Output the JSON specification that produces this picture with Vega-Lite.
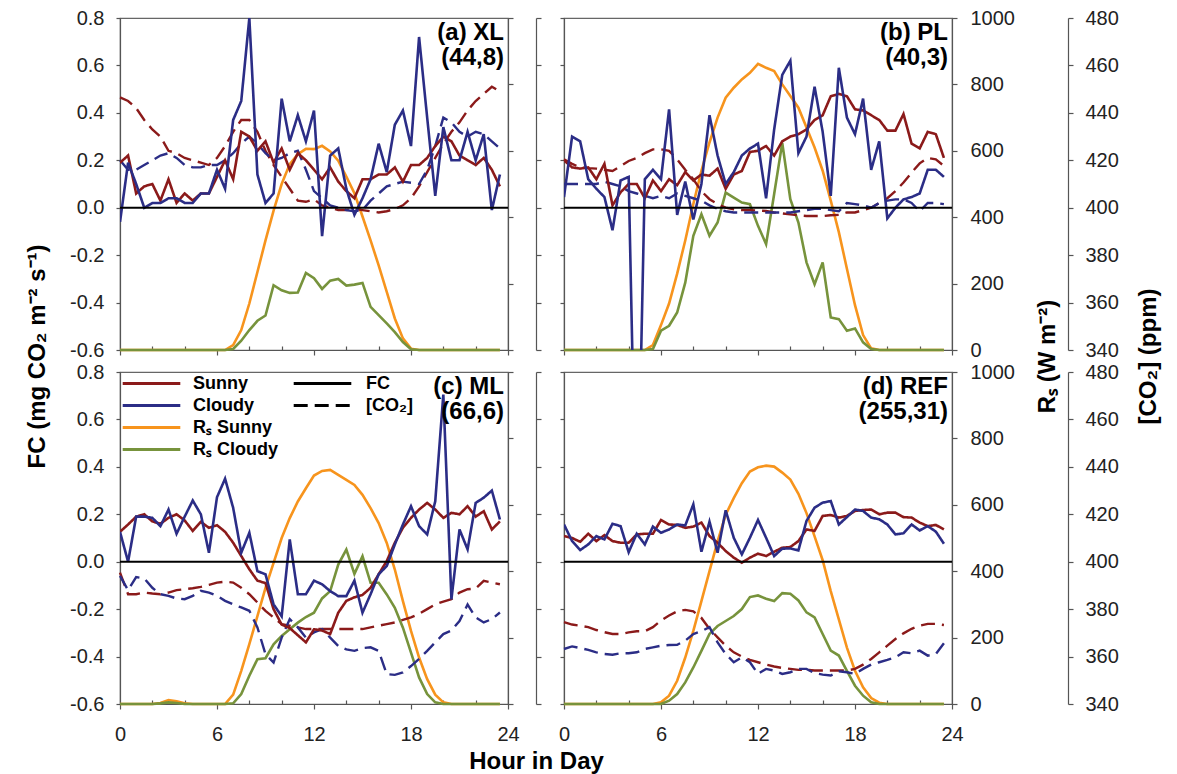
{
"$schema":"https://vega.github.io/schema/vega-lite/v6.json",
"padding":{"left":24,"top":7,"right":5,"bottom":5},
"background":"white",
"config":{
 "font":"Liberation Sans",
 "view":{"stroke":"#666","strokeWidth":1.2},
 "axis":{"grid":false,"domainColor":"#555","domainWidth":1.2,"tickColor":"#555","tickWidth":1.2,"labelFont":"Liberation Sans","labelFontSize":20,"labelColor":"#222","titleFont":"Liberation Sans","titleFontSize":24,"titleFontWeight":"bold","titleColor":"#000","labelOverlap":false,"labelFlush":false},
 "legend":{"labelFont":"Liberation Sans","labelFontSize":18,"labelFontWeight":"bold","labelColor":"#000","symbolStrokeWidth":3,"padding":0,"rowPadding":3},
 "text":{"font":"Liberation Sans"}
},
"data":{"values":[
{"p":"a","h":0,"Sunny":0.19,"Cloudy":-0.06,"co2_sunny":446.5,"co2_cloudy":420,"rs_sunny":0,"rs_cloudy":0},
{"p":"a","h":0.5,"Sunny":0.22,"Cloudy":0.19,"co2_sunny":445,"co2_cloudy":416,"rs_sunny":0,"rs_cloudy":0},
{"p":"a","h":1,"Sunny":0.06,"Cloudy":0.1,"co2_sunny":442,"co2_cloudy":416,"rs_sunny":0,"rs_cloudy":0},
{"p":"a","h":1.5,"Sunny":0.09,"Cloudy":0,"co2_sunny":437,"co2_cloudy":418,"rs_sunny":0,"rs_cloudy":0},
{"p":"a","h":2,"Sunny":0.1,"Cloudy":0.02,"co2_sunny":433,"co2_cloudy":420,"rs_sunny":0,"rs_cloudy":0},
{"p":"a","h":2.5,"Sunny":0.03,"Cloudy":0.02,"co2_sunny":430,"co2_cloudy":422,"rs_sunny":0,"rs_cloudy":0},
{"p":"a","h":3,"Sunny":0.12,"Cloudy":0.04,"co2_sunny":424,"co2_cloudy":423,"rs_sunny":0,"rs_cloudy":0},
{"p":"a","h":3.5,"Sunny":0.02,"Cloudy":0.04,"co2_sunny":423,"co2_cloudy":421,"rs_sunny":0,"rs_cloudy":0},
{"p":"a","h":4,"Sunny":0.06,"Cloudy":0.02,"co2_sunny":421,"co2_cloudy":418,"rs_sunny":0,"rs_cloudy":0},
{"p":"a","h":4.5,"Sunny":0.03,"Cloudy":0.02,"co2_sunny":420,"co2_cloudy":417,"rs_sunny":0,"rs_cloudy":0},
{"p":"a","h":5,"Sunny":0.06,"Cloudy":0.06,"co2_sunny":419,"co2_cloudy":417,"rs_sunny":0,"rs_cloudy":0},
{"p":"a","h":5.5,"Sunny":0.06,"Cloudy":0.06,"co2_sunny":418,"co2_cloudy":418,"rs_sunny":0,"rs_cloudy":0},
{"p":"a","h":6,"Sunny":0.13,"Cloudy":0.16,"co2_sunny":421,"co2_cloudy":418,"rs_sunny":0,"rs_cloudy":0},
{"p":"a","h":6.5,"Sunny":0.2,"Cloudy":0.08,"co2_sunny":426,"co2_cloudy":420,"rs_sunny":0,"rs_cloudy":0},
{"p":"a","h":7,"Sunny":0.12,"Cloudy":0.37,"co2_sunny":432,"co2_cloudy":423,"rs_sunny":15,"rs_cloudy":3},
{"p":"a","h":7.5,"Sunny":0.32,"Cloudy":0.45,"co2_sunny":437,"co2_cloudy":427,"rs_sunny":60,"rs_cloudy":28},
{"p":"a","h":8,"Sunny":0.3,"Cloudy":0.8,"co2_sunny":437,"co2_cloudy":430,"rs_sunny":140,"rs_cloudy":60},
{"p":"a","h":8.5,"Sunny":0.24,"Cloudy":0.14,"co2_sunny":432,"co2_cloudy":427,"rs_sunny":235,"rs_cloudy":88},
{"p":"a","h":9,"Sunny":0.28,"Cloudy":0.02,"co2_sunny":424,"co2_cloudy":423,"rs_sunny":330,"rs_cloudy":104},
{"p":"a","h":9.5,"Sunny":0.19,"Cloudy":0.06,"co2_sunny":418,"co2_cloudy":420,"rs_sunny":420,"rs_cloudy":195},
{"p":"a","h":10,"Sunny":0.25,"Cloudy":0.46,"co2_sunny":413,"co2_cloudy":421,"rs_sunny":500,"rs_cloudy":180},
{"p":"a","h":10.5,"Sunny":0.16,"Cloudy":0.28,"co2_sunny":408,"co2_cloudy":423,"rs_sunny":560,"rs_cloudy":172},
{"p":"a","h":11,"Sunny":0.23,"Cloudy":0.39,"co2_sunny":403,"co2_cloudy":424,"rs_sunny":590,"rs_cloudy":173},
{"p":"a","h":11.5,"Sunny":0.2,"Cloudy":0.28,"co2_sunny":402.5,"co2_cloudy":416,"rs_sunny":606,"rs_cloudy":232},
{"p":"a","h":12,"Sunny":0.16,"Cloudy":0.41,"co2_sunny":403.5,"co2_cloudy":407,"rs_sunny":605,"rs_cloudy":216},
{"p":"a","h":12.5,"Sunny":0.12,"Cloudy":-0.12,"co2_sunny":401,"co2_cloudy":404,"rs_sunny":615,"rs_cloudy":184},
{"p":"a","h":13,"Sunny":0.17,"Cloudy":0.22,"co2_sunny":400,"co2_cloudy":401,"rs_sunny":598,"rs_cloudy":209},
{"p":"a","h":13.5,"Sunny":0.11,"Cloudy":0.25,"co2_sunny":399,"co2_cloudy":400,"rs_sunny":570,"rs_cloudy":214},
{"p":"a","h":14,"Sunny":0.07,"Cloudy":0.08,"co2_sunny":399,"co2_cloudy":399,"rs_sunny":522,"rs_cloudy":194},
{"p":"a","h":14.5,"Sunny":0.04,"Cloudy":-0.03,"co2_sunny":399.5,"co2_cloudy":398.5,"rs_sunny":472,"rs_cloudy":197},
{"p":"a","h":15,"Sunny":0.12,"Cloudy":0.04,"co2_sunny":399,"co2_cloudy":399,"rs_sunny":402,"rs_cloudy":202},
{"p":"a","h":15.5,"Sunny":0.12,"Cloudy":0.12,"co2_sunny":398.5,"co2_cloudy":403,"rs_sunny":330,"rs_cloudy":130},
{"p":"a","h":16,"Sunny":0.14,"Cloudy":0.27,"co2_sunny":398,"co2_cloudy":406,"rs_sunny":255,"rs_cloudy":105},
{"p":"a","h":16.5,"Sunny":0.14,"Cloudy":0.15,"co2_sunny":398.5,"co2_cloudy":409,"rs_sunny":175,"rs_cloudy":80},
{"p":"a","h":17,"Sunny":0.17,"Cloudy":0.35,"co2_sunny":399.5,"co2_cloudy":410,"rs_sunny":95,"rs_cloudy":54},
{"p":"a","h":17.5,"Sunny":0.11,"Cloudy":0.41,"co2_sunny":401,"co2_cloudy":411,"rs_sunny":35,"rs_cloudy":24},
{"p":"a","h":18,"Sunny":0.18,"Cloudy":0.26,"co2_sunny":404,"co2_cloudy":410.5,"rs_sunny":4,"rs_cloudy":2},
{"p":"a","h":18.5,"Sunny":0.18,"Cloudy":0.72,"co2_sunny":409,"co2_cloudy":410,"rs_sunny":0,"rs_cloudy":0},
{"p":"a","h":19,"Sunny":0.21,"Cloudy":0.38,"co2_sunny":415,"co2_cloudy":416,"rs_sunny":0,"rs_cloudy":0},
{"p":"a","h":19.5,"Sunny":0.26,"Cloudy":0.05,"co2_sunny":421,"co2_cloudy":426,"rs_sunny":0,"rs_cloudy":0},
{"p":"a","h":20,"Sunny":0.3,"Cloudy":0.34,"co2_sunny":427,"co2_cloudy":438,"rs_sunny":0,"rs_cloudy":0},
{"p":"a","h":20.5,"Sunny":0.28,"Cloudy":0.2,"co2_sunny":432,"co2_cloudy":436,"rs_sunny":0,"rs_cloudy":0},
{"p":"a","h":21,"Sunny":0.22,"Cloudy":0.2,"co2_sunny":436,"co2_cloudy":432,"rs_sunny":0,"rs_cloudy":0},
{"p":"a","h":21.5,"Sunny":0.2,"Cloudy":0.32,"co2_sunny":441,"co2_cloudy":430,"rs_sunny":0,"rs_cloudy":0},
{"p":"a","h":22,"Sunny":0.18,"Cloudy":0.2,"co2_sunny":445,"co2_cloudy":432,"rs_sunny":0,"rs_cloudy":0},
{"p":"a","h":22.5,"Sunny":0.21,"Cloudy":0.31,"co2_sunny":448,"co2_cloudy":431,"rs_sunny":0,"rs_cloudy":0},
{"p":"a","h":23,"Sunny":0.16,"Cloudy":-0.01,"co2_sunny":451,"co2_cloudy":428,"rs_sunny":0,"rs_cloudy":0},
{"p":"a","h":23.5,"Sunny":0.09,"Cloudy":0.14,"co2_sunny":449,"co2_cloudy":425,"rs_sunny":0,"rs_cloudy":0},
{"p":"b","h":0,"Sunny":0.2,"Cloudy":0.045,"co2_sunny":420.4,"co2_cloudy":410,"rs_sunny":0,"rs_cloudy":0},
{"p":"b","h":0.5,"Sunny":0.17,"Cloudy":0.3,"co2_sunny":418.5,"co2_cloudy":410,"rs_sunny":0,"rs_cloudy":0},
{"p":"b","h":1,"Sunny":0.165,"Cloudy":0.28,"co2_sunny":417,"co2_cloudy":410,"rs_sunny":0,"rs_cloudy":0},
{"p":"b","h":1.5,"Sunny":0.17,"Cloudy":0.12,"co2_sunny":416.7,"co2_cloudy":410,"rs_sunny":0,"rs_cloudy":0},
{"p":"b","h":2,"Sunny":0.12,"Cloudy":0.08,"co2_sunny":416.5,"co2_cloudy":410,"rs_sunny":0,"rs_cloudy":0},
{"p":"b","h":2.5,"Sunny":0.185,"Cloudy":0.045,"co2_sunny":416,"co2_cloudy":411,"rs_sunny":0,"rs_cloudy":0},
{"p":"b","h":3,"Sunny":0.01,"Cloudy":-0.095,"co2_sunny":415.5,"co2_cloudy":410,"rs_sunny":0,"rs_cloudy":0},
{"p":"b","h":3.5,"Sunny":0.065,"Cloudy":0.115,"co2_sunny":417.5,"co2_cloudy":409,"rs_sunny":0,"rs_cloudy":0},
{"p":"b","h":4,"Sunny":0.1,"Cloudy":0.13,"co2_sunny":419.7,"co2_cloudy":407,"rs_sunny":0,"rs_cloudy":0},
{"p":"b","h":4.5,"Sunny":0.1,"Cloudy":-1.5,"co2_sunny":421,"co2_cloudy":406,"rs_sunny":0,"rs_cloudy":0},
{"p":"b","h":5,"Sunny":0.04,"Cloudy":0.12,"co2_sunny":423,"co2_cloudy":405,"rs_sunny":0,"rs_cloudy":0},
{"p":"b","h":5.5,"Sunny":0.115,"Cloudy":0.16,"co2_sunny":424.6,"co2_cloudy":404,"rs_sunny":15,"rs_cloudy":3},
{"p":"b","h":6,"Sunny":0.07,"Cloudy":0.12,"co2_sunny":424.6,"co2_cloudy":405,"rs_sunny":75,"rs_cloudy":58},
{"p":"b","h":6.5,"Sunny":0.12,"Cloudy":0.415,"co2_sunny":424,"co2_cloudy":404,"rs_sunny":140,"rs_cloudy":73},
{"p":"b","h":7,"Sunny":0.095,"Cloudy":-0.03,"co2_sunny":420.4,"co2_cloudy":406,"rs_sunny":230,"rs_cloudy":113},
{"p":"b","h":7.5,"Sunny":0.15,"Cloudy":0.11,"co2_sunny":416,"co2_cloudy":405,"rs_sunny":330,"rs_cloudy":203},
{"p":"b","h":8,"Sunny":0.115,"Cloudy":-0.05,"co2_sunny":412,"co2_cloudy":404,"rs_sunny":440,"rs_cloudy":344},
{"p":"b","h":8.5,"Sunny":0.14,"Cloudy":0.1,"co2_sunny":407,"co2_cloudy":403,"rs_sunny":540,"rs_cloudy":409},
{"p":"b","h":9,"Sunny":0.135,"Cloudy":0.39,"co2_sunny":403.6,"co2_cloudy":401,"rs_sunny":625,"rs_cloudy":344},
{"p":"b","h":9.5,"Sunny":0.165,"Cloudy":0.22,"co2_sunny":401.5,"co2_cloudy":399.5,"rs_sunny":700,"rs_cloudy":384},
{"p":"b","h":10,"Sunny":0.08,"Cloudy":0.1,"co2_sunny":400,"co2_cloudy":398.5,"rs_sunny":760,"rs_cloudy":474},
{"p":"b","h":10.5,"Sunny":0.14,"Cloudy":0.15,"co2_sunny":399.3,"co2_cloudy":398,"rs_sunny":790,"rs_cloudy":459},
{"p":"b","h":11,"Sunny":0.155,"Cloudy":0.22,"co2_sunny":399,"co2_cloudy":398,"rs_sunny":815,"rs_cloudy":444},
{"p":"b","h":11.5,"Sunny":0.235,"Cloudy":0.25,"co2_sunny":399,"co2_cloudy":398,"rs_sunny":835,"rs_cloudy":439},
{"p":"b","h":12,"Sunny":0.24,"Cloudy":0.27,"co2_sunny":398.8,"co2_cloudy":398,"rs_sunny":862,"rs_cloudy":374},
{"p":"b","h":12.5,"Sunny":0.26,"Cloudy":0.04,"co2_sunny":398.6,"co2_cloudy":398,"rs_sunny":850,"rs_cloudy":319},
{"p":"b","h":13,"Sunny":0.22,"Cloudy":0.33,"co2_sunny":398,"co2_cloudy":398,"rs_sunny":840,"rs_cloudy":470},
{"p":"b","h":13.5,"Sunny":0.28,"Cloudy":0.56,"co2_sunny":397.6,"co2_cloudy":398,"rs_sunny":800,"rs_cloudy":624},
{"p":"b","h":14,"Sunny":0.3,"Cloudy":0.62,"co2_sunny":397.2,"co2_cloudy":398,"rs_sunny":765,"rs_cloudy":454},
{"p":"b","h":14.5,"Sunny":0.31,"Cloudy":0.23,"co2_sunny":396.8,"co2_cloudy":398.5,"rs_sunny":730,"rs_cloudy":384},
{"p":"b","h":15,"Sunny":0.33,"Cloudy":0.3,"co2_sunny":396.5,"co2_cloudy":399,"rs_sunny":670,"rs_cloudy":264},
{"p":"b","h":15.5,"Sunny":0.37,"Cloudy":0.51,"co2_sunny":396.5,"co2_cloudy":399.5,"rs_sunny":610,"rs_cloudy":198},
{"p":"b","h":16,"Sunny":0.39,"Cloudy":0.32,"co2_sunny":396.5,"co2_cloudy":399.5,"rs_sunny":540,"rs_cloudy":264},
{"p":"b","h":16.5,"Sunny":0.47,"Cloudy":0.05,"co2_sunny":396.8,"co2_cloudy":399,"rs_sunny":450,"rs_cloudy":98},
{"p":"b","h":17,"Sunny":0.48,"Cloudy":0.59,"co2_sunny":397,"co2_cloudy":398.5,"rs_sunny":355,"rs_cloudy":93},
{"p":"b","h":17.5,"Sunny":0.47,"Cloudy":0.38,"co2_sunny":398,"co2_cloudy":402,"rs_sunny":245,"rs_cloudy":58},
{"p":"b","h":18,"Sunny":0.415,"Cloudy":0.31,"co2_sunny":398,"co2_cloudy":401.5,"rs_sunny":135,"rs_cloudy":65},
{"p":"b","h":18.5,"Sunny":0.41,"Cloudy":0.46,"co2_sunny":399,"co2_cloudy":401,"rs_sunny":45,"rs_cloudy":23},
{"p":"b","h":19,"Sunny":0.39,"Cloudy":0.16,"co2_sunny":400,"co2_cloudy":400,"rs_sunny":5,"rs_cloudy":3},
{"p":"b","h":19.5,"Sunny":0.37,"Cloudy":0.28,"co2_sunny":402,"co2_cloudy":402,"rs_sunny":0,"rs_cloudy":0},
{"p":"b","h":20,"Sunny":0.325,"Cloudy":-0.045,"co2_sunny":404,"co2_cloudy":403,"rs_sunny":0,"rs_cloudy":0},
{"p":"b","h":20.5,"Sunny":0.325,"Cloudy":0,"co2_sunny":407,"co2_cloudy":403.5,"rs_sunny":0,"rs_cloudy":0},
{"p":"b","h":21,"Sunny":0.395,"Cloudy":0.035,"co2_sunny":410.6,"co2_cloudy":403.5,"rs_sunny":0,"rs_cloudy":0},
{"p":"b","h":21.5,"Sunny":0.27,"Cloudy":0.045,"co2_sunny":414.8,"co2_cloudy":402,"rs_sunny":0,"rs_cloudy":0},
{"p":"b","h":22,"Sunny":0.25,"Cloudy":0.06,"co2_sunny":418.7,"co2_cloudy":398.5,"rs_sunny":0,"rs_cloudy":0},
{"p":"b","h":22.5,"Sunny":0.32,"Cloudy":0.16,"co2_sunny":421,"co2_cloudy":402,"rs_sunny":0,"rs_cloudy":0},
{"p":"b","h":23,"Sunny":0.31,"Cloudy":0.16,"co2_sunny":420.4,"co2_cloudy":402,"rs_sunny":0,"rs_cloudy":0},
{"p":"b","h":23.5,"Sunny":0.21,"Cloudy":0.13,"co2_sunny":417.6,"co2_cloudy":401.5,"rs_sunny":0,"rs_cloudy":0},
{"p":"c","h":0,"Sunny":0.126,"Cloudy":0.126,"co2_sunny":395.4,"co2_cloudy":394,"rs_sunny":0,"rs_cloudy":0},
{"p":"c","h":0.5,"Sunny":0.157,"Cloudy":0,"co2_sunny":386.3,"co2_cloudy":388,"rs_sunny":0,"rs_cloudy":0},
{"p":"c","h":1,"Sunny":0.19,"Cloudy":0.19,"co2_sunny":386.3,"co2_cloudy":393.5,"rs_sunny":0,"rs_cloudy":0},
{"p":"c","h":1.5,"Sunny":0.2,"Cloudy":0.19,"co2_sunny":387,"co2_cloudy":393,"rs_sunny":0,"rs_cloudy":0},
{"p":"c","h":2,"Sunny":0.17,"Cloudy":0.185,"co2_sunny":386.6,"co2_cloudy":389,"rs_sunny":0,"rs_cloudy":0},
{"p":"c","h":2.5,"Sunny":0.16,"Cloudy":0.15,"co2_sunny":386.3,"co2_cloudy":386.3,"rs_sunny":3,"rs_cloudy":2},
{"p":"c","h":3,"Sunny":0.185,"Cloudy":0.22,"co2_sunny":387,"co2_cloudy":385.6,"rs_sunny":12,"rs_cloudy":5},
{"p":"c","h":3.5,"Sunny":0.2,"Cloudy":0.118,"co2_sunny":388,"co2_cloudy":384.5,"rs_sunny":8,"rs_cloudy":3},
{"p":"c","h":4,"Sunny":0.174,"Cloudy":0.19,"co2_sunny":388.4,"co2_cloudy":384.2,"rs_sunny":2,"rs_cloudy":0},
{"p":"c","h":4.5,"Sunny":0.13,"Cloudy":0.258,"co2_sunny":388.8,"co2_cloudy":385.6,"rs_sunny":0,"rs_cloudy":0},
{"p":"c","h":5,"Sunny":0.168,"Cloudy":0.2,"co2_sunny":389.4,"co2_cloudy":387.7,"rs_sunny":0,"rs_cloudy":0},
{"p":"c","h":5.5,"Sunny":0.143,"Cloudy":0.038,"co2_sunny":390.2,"co2_cloudy":387,"rs_sunny":0,"rs_cloudy":0},
{"p":"c","h":6,"Sunny":0.154,"Cloudy":0.272,"co2_sunny":391.2,"co2_cloudy":385.6,"rs_sunny":0,"rs_cloudy":0},
{"p":"c","h":6.5,"Sunny":0.126,"Cloudy":0.35,"co2_sunny":391.6,"co2_cloudy":383.5,"rs_sunny":0,"rs_cloudy":0},
{"p":"c","h":7,"Sunny":0.08,"Cloudy":0.227,"co2_sunny":391.2,"co2_cloudy":382,"rs_sunny":28,"rs_cloudy":2},
{"p":"c","h":7.5,"Sunny":0.024,"Cloudy":0.038,"co2_sunny":389,"co2_cloudy":380.7,"rs_sunny":100,"rs_cloudy":30},
{"p":"c","h":8,"Sunny":-0.032,"Cloudy":0.122,"co2_sunny":386.3,"co2_cloudy":379.3,"rs_sunny":180,"rs_cloudy":85},
{"p":"c","h":8.5,"Sunny":-0.08,"Cloudy":-0.04,"co2_sunny":382.8,"co2_cloudy":372.3,"rs_sunny":265,"rs_cloudy":135},
{"p":"c","h":9,"Sunny":-0.09,"Cloudy":-0.053,"co2_sunny":379.3,"co2_cloudy":361,"rs_sunny":350,"rs_cloudy":138},
{"p":"c","h":9.5,"Sunny":-0.2,"Cloudy":-0.18,"co2_sunny":376.5,"co2_cloudy":357.5,"rs_sunny":425,"rs_cloudy":180},
{"p":"c","h":10,"Sunny":-0.265,"Cloudy":-0.23,"co2_sunny":373.7,"co2_cloudy":368,"rs_sunny":500,"rs_cloudy":205},
{"p":"c","h":10.5,"Sunny":-0.28,"Cloudy":0.094,"co2_sunny":373,"co2_cloudy":375.8,"rs_sunny":560,"rs_cloudy":225},
{"p":"c","h":11,"Sunny":-0.31,"Cloudy":-0.137,"co2_sunny":372.3,"co2_cloudy":372.3,"rs_sunny":610,"rs_cloudy":245},
{"p":"c","h":11.5,"Sunny":-0.34,"Cloudy":-0.137,"co2_sunny":371.6,"co2_cloudy":368,"rs_sunny":650,"rs_cloudy":262},
{"p":"c","h":12,"Sunny":-0.285,"Cloudy":-0.08,"co2_sunny":371.6,"co2_cloudy":370.2,"rs_sunny":688,"rs_cloudy":275},
{"p":"c","h":12.5,"Sunny":-0.29,"Cloudy":-0.095,"co2_sunny":371.6,"co2_cloudy":371.6,"rs_sunny":702,"rs_cloudy":318},
{"p":"c","h":13,"Sunny":-0.305,"Cloudy":-0.124,"co2_sunny":371.6,"co2_cloudy":368,"rs_sunny":705,"rs_cloudy":340},
{"p":"c","h":13.5,"Sunny":-0.215,"Cloudy":-0.145,"co2_sunny":371.6,"co2_cloudy":364.5,"rs_sunny":690,"rs_cloudy":420},
{"p":"c","h":14,"Sunny":-0.165,"Cloudy":-0.145,"co2_sunny":371.6,"co2_cloudy":363,"rs_sunny":675,"rs_cloudy":465},
{"p":"c","h":14.5,"Sunny":-0.15,"Cloudy":-0.08,"co2_sunny":371.6,"co2_cloudy":362.4,"rs_sunny":660,"rs_cloudy":392},
{"p":"c","h":15,"Sunny":-0.14,"Cloudy":-0.215,"co2_sunny":371.6,"co2_cloudy":363.6,"rs_sunny":630,"rs_cloudy":445},
{"p":"c","h":15.5,"Sunny":-0.11,"Cloudy":-0.137,"co2_sunny":372.3,"co2_cloudy":363.9,"rs_sunny":590,"rs_cloudy":365},
{"p":"c","h":16,"Sunny":-0.053,"Cloudy":-0.053,"co2_sunny":373,"co2_cloudy":362.4,"rs_sunny":545,"rs_cloudy":365},
{"p":"c","h":16.5,"Sunny":0.003,"Cloudy":-0.018,"co2_sunny":373.7,"co2_cloudy":352.6,"rs_sunny":485,"rs_cloudy":330},
{"p":"c","h":17,"Sunny":0.08,"Cloudy":0.073,"co2_sunny":374.4,"co2_cloudy":352.3,"rs_sunny":405,"rs_cloudy":290},
{"p":"c","h":17.5,"Sunny":0.143,"Cloudy":0.157,"co2_sunny":375.5,"co2_cloudy":353.3,"rs_sunny":310,"rs_cloudy":230},
{"p":"c","h":18,"Sunny":0.185,"Cloudy":0.234,"co2_sunny":376.5,"co2_cloudy":356,"rs_sunny":220,"rs_cloudy":155},
{"p":"c","h":18.5,"Sunny":0.22,"Cloudy":0.15,"co2_sunny":378,"co2_cloudy":359,"rs_sunny":140,"rs_cloudy":80},
{"p":"c","h":19,"Sunny":0.248,"Cloudy":0.115,"co2_sunny":380,"co2_cloudy":362.4,"rs_sunny":75,"rs_cloudy":30},
{"p":"c","h":19.5,"Sunny":0.22,"Cloudy":0.255,"co2_sunny":382,"co2_cloudy":366,"rs_sunny":28,"rs_cloudy":5},
{"p":"c","h":20,"Sunny":0.185,"Cloudy":0.705,"co2_sunny":383.2,"co2_cloudy":369.5,"rs_sunny":5,"rs_cloudy":0},
{"p":"c","h":20.5,"Sunny":0.206,"Cloudy":-0.159,"co2_sunny":384.2,"co2_cloudy":371,"rs_sunny":0,"rs_cloudy":0},
{"p":"c","h":21,"Sunny":0.2,"Cloudy":0.136,"co2_sunny":387,"co2_cloudy":375,"rs_sunny":0,"rs_cloudy":0},
{"p":"c","h":21.5,"Sunny":0.234,"Cloudy":0.052,"co2_sunny":388.4,"co2_cloudy":382,"rs_sunny":0,"rs_cloudy":0},
{"p":"c","h":22,"Sunny":0.19,"Cloudy":0.248,"co2_sunny":388.7,"co2_cloudy":376.5,"rs_sunny":0,"rs_cloudy":0},
{"p":"c","h":22.5,"Sunny":0.213,"Cloudy":0.27,"co2_sunny":391.9,"co2_cloudy":374.4,"rs_sunny":0,"rs_cloudy":0},
{"p":"c","h":23,"Sunny":0.136,"Cloudy":0.3,"co2_sunny":391.2,"co2_cloudy":375.8,"rs_sunny":0,"rs_cloudy":0},
{"p":"c","h":23.5,"Sunny":0.17,"Cloudy":0.178,"co2_sunny":390.5,"co2_cloudy":378.6,"rs_sunny":0,"rs_cloudy":0},
{"p":"d","h":0,"Sunny":0.108,"Cloudy":0.157,"co2_sunny":374.5,"co2_cloudy":363.2,"rs_sunny":0,"rs_cloudy":0},
{"p":"d","h":0.5,"Sunny":0.1,"Cloudy":0.087,"co2_sunny":373.5,"co2_cloudy":364.3,"rs_sunny":0,"rs_cloudy":0},
{"p":"d","h":1,"Sunny":0.084,"Cloudy":0.049,"co2_sunny":373,"co2_cloudy":363.6,"rs_sunny":0,"rs_cloudy":0},
{"p":"d","h":1.5,"Sunny":0.118,"Cloudy":0.073,"co2_sunny":372.4,"co2_cloudy":362.8,"rs_sunny":0,"rs_cloudy":0},
{"p":"d","h":2,"Sunny":0.087,"Cloudy":0.108,"co2_sunny":371.2,"co2_cloudy":361.8,"rs_sunny":0,"rs_cloudy":0},
{"p":"d","h":2.5,"Sunny":0.112,"Cloudy":0.094,"co2_sunny":370.3,"co2_cloudy":361.1,"rs_sunny":0,"rs_cloudy":0},
{"p":"d","h":3,"Sunny":0.087,"Cloudy":0.16,"co2_sunny":369.5,"co2_cloudy":360.8,"rs_sunny":0,"rs_cloudy":0},
{"p":"d","h":3.5,"Sunny":0.08,"Cloudy":0.15,"co2_sunny":369.5,"co2_cloudy":361.4,"rs_sunny":0,"rs_cloudy":0},
{"p":"d","h":4,"Sunny":0.08,"Cloudy":0.04,"co2_sunny":370.2,"co2_cloudy":361.4,"rs_sunny":0,"rs_cloudy":0},
{"p":"d","h":4.5,"Sunny":0.115,"Cloudy":0.118,"co2_sunny":370.7,"co2_cloudy":361.8,"rs_sunny":0,"rs_cloudy":0},
{"p":"d","h":5,"Sunny":0.118,"Cloudy":0.073,"co2_sunny":370.7,"co2_cloudy":363.2,"rs_sunny":0,"rs_cloudy":0},
{"p":"d","h":5.5,"Sunny":0.118,"Cloudy":0.148,"co2_sunny":372.4,"co2_cloudy":363.9,"rs_sunny":0,"rs_cloudy":0},
{"p":"d","h":6,"Sunny":0.176,"Cloudy":0.122,"co2_sunny":375.2,"co2_cloudy":364.6,"rs_sunny":5,"rs_cloudy":0},
{"p":"d","h":6.5,"Sunny":0.157,"Cloudy":0.136,"co2_sunny":377.3,"co2_cloudy":364.9,"rs_sunny":25,"rs_cloudy":10},
{"p":"d","h":7,"Sunny":0.155,"Cloudy":0.157,"co2_sunny":379.1,"co2_cloudy":365,"rs_sunny":70,"rs_cloudy":30},
{"p":"d","h":7.5,"Sunny":0.143,"Cloudy":0.153,"co2_sunny":379.7,"co2_cloudy":366.7,"rs_sunny":140,"rs_cloudy":65},
{"p":"d","h":8,"Sunny":0.148,"Cloudy":0.242,"co2_sunny":379.1,"co2_cloudy":369.5,"rs_sunny":220,"rs_cloudy":110},
{"p":"d","h":8.5,"Sunny":0.165,"Cloudy":0.042,"co2_sunny":376.3,"co2_cloudy":370.7,"rs_sunny":310,"rs_cloudy":160},
{"p":"d","h":9,"Sunny":0.108,"Cloudy":0.169,"co2_sunny":371.7,"co2_cloudy":372.4,"rs_sunny":400,"rs_cloudy":211},
{"p":"d","h":9.5,"Sunny":0.08,"Cloudy":0.038,"co2_sunny":368.1,"co2_cloudy":366,"rs_sunny":490,"rs_cloudy":235},
{"p":"d","h":10,"Sunny":0.045,"Cloudy":0.217,"co2_sunny":364.6,"co2_cloudy":361.1,"rs_sunny":570,"rs_cloudy":250},
{"p":"d","h":10.5,"Sunny":0.017,"Cloudy":0.101,"co2_sunny":361.8,"co2_cloudy":357.6,"rs_sunny":620,"rs_cloudy":265},
{"p":"d","h":11,"Sunny":-0.004,"Cloudy":0.031,"co2_sunny":360,"co2_cloudy":359.7,"rs_sunny":665,"rs_cloudy":286},
{"p":"d","h":11.5,"Sunny":0.017,"Cloudy":0.101,"co2_sunny":358.6,"co2_cloudy":357.6,"rs_sunny":700,"rs_cloudy":322},
{"p":"d","h":12,"Sunny":0.034,"Cloudy":0.176,"co2_sunny":357.6,"co2_cloudy":352.7,"rs_sunny":713,"rs_cloudy":327},
{"p":"d","h":12.5,"Sunny":0.024,"Cloudy":0.101,"co2_sunny":356.6,"co2_cloudy":354.8,"rs_sunny":718,"rs_cloudy":317},
{"p":"d","h":13,"Sunny":0.042,"Cloudy":0.024,"co2_sunny":355.8,"co2_cloudy":354.1,"rs_sunny":715,"rs_cloudy":310},
{"p":"d","h":13.5,"Sunny":0.059,"Cloudy":0.055,"co2_sunny":355.2,"co2_cloudy":352.7,"rs_sunny":697,"rs_cloudy":334},
{"p":"d","h":14,"Sunny":0.062,"Cloudy":0.056,"co2_sunny":354.8,"co2_cloudy":353.4,"rs_sunny":676,"rs_cloudy":332},
{"p":"d","h":14.5,"Sunny":0.087,"Cloudy":0.048,"co2_sunny":354.4,"co2_cloudy":354.8,"rs_sunny":633,"rs_cloudy":312},
{"p":"d","h":15,"Sunny":0.136,"Cloudy":0.172,"co2_sunny":354.4,"co2_cloudy":354.8,"rs_sunny":575,"rs_cloudy":276},
{"p":"d","h":15.5,"Sunny":0.13,"Cloudy":0.228,"co2_sunny":354.1,"co2_cloudy":353,"rs_sunny":505,"rs_cloudy":261},
{"p":"d","h":16,"Sunny":0.193,"Cloudy":0.249,"co2_sunny":354.1,"co2_cloudy":352.4,"rs_sunny":433,"rs_cloudy":211},
{"p":"d","h":16.5,"Sunny":0.197,"Cloudy":0.256,"co2_sunny":354.1,"co2_cloudy":352,"rs_sunny":340,"rs_cloudy":161},
{"p":"d","h":17,"Sunny":0.186,"Cloudy":0.157,"co2_sunny":354.1,"co2_cloudy":353.8,"rs_sunny":255,"rs_cloudy":146},
{"p":"d","h":17.5,"Sunny":0.193,"Cloudy":0.188,"co2_sunny":354.1,"co2_cloudy":353.4,"rs_sunny":170,"rs_cloudy":100},
{"p":"d","h":18,"Sunny":0.214,"Cloudy":0.22,"co2_sunny":354.8,"co2_cloudy":352.7,"rs_sunny":100,"rs_cloudy":55},
{"p":"d","h":18.5,"Sunny":0.218,"Cloudy":0.214,"co2_sunny":356.6,"co2_cloudy":354.8,"rs_sunny":50,"rs_cloudy":25},
{"p":"d","h":19,"Sunny":0.22,"Cloudy":0.186,"co2_sunny":359,"co2_cloudy":356.6,"rs_sunny":18,"rs_cloudy":5},
{"p":"d","h":19.5,"Sunny":0.2,"Cloudy":0.179,"co2_sunny":361.8,"co2_cloudy":357.6,"rs_sunny":4,"rs_cloudy":0},
{"p":"d","h":20,"Sunny":0.207,"Cloudy":0.157,"co2_sunny":364.6,"co2_cloudy":358.6,"rs_sunny":0,"rs_cloudy":0},
{"p":"d","h":20.5,"Sunny":0.207,"Cloudy":0.115,"co2_sunny":367.4,"co2_cloudy":359.7,"rs_sunny":0,"rs_cloudy":0},
{"p":"d","h":21,"Sunny":0.188,"Cloudy":0.12,"co2_sunny":369.8,"co2_cloudy":361.8,"rs_sunny":0,"rs_cloudy":0},
{"p":"d","h":21.5,"Sunny":0.186,"Cloudy":0.157,"co2_sunny":371.7,"co2_cloudy":361.4,"rs_sunny":0,"rs_cloudy":0},
{"p":"d","h":22,"Sunny":0.165,"Cloudy":0.132,"co2_sunny":373,"co2_cloudy":362.5,"rs_sunny":0,"rs_cloudy":0},
{"p":"d","h":22.5,"Sunny":0.15,"Cloudy":0.15,"co2_sunny":373.8,"co2_cloudy":360.4,"rs_sunny":0,"rs_cloudy":0},
{"p":"d","h":23,"Sunny":0.155,"Cloudy":0.127,"co2_sunny":373.8,"co2_cloudy":361.1,"rs_sunny":0,"rs_cloudy":0},
{"p":"d","h":23.5,"Sunny":0.136,"Cloudy":0.076,"co2_sunny":373.3,"co2_cloudy":365.6,"rs_sunny":0,"rs_cloudy":0}
]},
"bounds":"flush",
"columns":2,
"spacing":{"row":22,"column":56},
"resolve":{"legend":{"color":"independent","strokeDash":"independent"}},
"concat":[
{
 "width":388,"height":332,
 "transform":[{"filter":"datum.p == 'a'"}],
 "layer":[
  {"transform":[{"fold":["rs_sunny","rs_cloudy"],"as":["series","value"]}],
   "mark":{"type":"line","strokeWidth":2.6},
   "encoding":{
    "x":{"field":"h","type":"quantitative","scale":{"domain":[0,24],"nice":false},"axis":{"orient":"bottom","values":[2,4,8,10,14,16,20,22],"labels":false,"domain":false,"tickSize":-4,"title":null}},
    "y":{"field":"value","type":"quantitative","scale":{"domain":[0,1000],"nice":false},"axis":{"orient":"right","values":[0,200,400,600,800,1000],"labels":false,"tickSize":5,"title":null}},
    "color":{"field":"series","type":"nominal","scale":{"domain":["Sunny","Cloudy","rs_sunny","rs_cloudy","co2_sunny","co2_cloudy"],"range":["#8B1A1A","#2B2D86","#F7941D","#77933C","#8B1A1A","#2B2D86"]},"legend":null}}},
  {"transform":[{"fold":["co2_sunny","co2_cloudy"],"as":["series","value"]}],
   "mark":{"type":"line","strokeWidth":2.4},
   "encoding":{
    "x":{"field":"h","type":"quantitative","scale":{"domain":[0,24],"nice":false},"axis":null},
    "y":{"field":"value","type":"quantitative","scale":{"domain":[340,480],"nice":false,"zero":false},"axis":{"orient":"right","offset":28,"values":[340,360,380,400,420,440,460,480],"labels":false,"tickSize":5,"title":null}},
    "color":{"field":"series","type":"nominal","scale":{"domain":["Sunny","Cloudy","rs_sunny","rs_cloudy","co2_sunny","co2_cloudy"],"range":["#8B1A1A","#2B2D86","#F7941D","#77933C","#8B1A1A","#2B2D86"]},"legend":null},
    "strokeDash":{"datum":"[CO₂]","type":"nominal","scale":{"domain":["FC","[CO₂]"],"range":[[1,0],[14,7]]},"legend":null}}},
  {"layer":[
   {"transform":[{"fold":["Sunny","Cloudy"],"as":["series","value"]}],
    "mark":{"type":"line","strokeWidth":2.6,"clip":true},
    "encoding":{
     "x":{"field":"h","type":"quantitative","scale":{"domain":[0,24],"nice":false},"axis":{"orient":"bottom","values":[0,6,12,18,24],"labels":false,"title":null,"tickSize":5,"labelOverlap":false,"labelFlush":false}},
     "y":{"field":"value","type":"quantitative","scale":{"domain":[-0.6,0.8],"nice":false,"zero":false},"axis":{"orient":"left","values":[-0.6,-0.4,-0.2,0,0.2,0.4,0.6,0.8],"format":".1f","labelExpr":"replace(datum.label,'−','-')","labelPadding":12,"tickSize":4,"labelOverlap":false,"title":"FC (mg CO₂ m⁻² s⁻¹)","titleX":-76,"titleY":338,"titleAngle":270,"titleAlign":"center","titleBaseline":"alphabetic"}},
     "color":{"field":"series","type":"nominal","scale":{"domain":["Sunny","Cloudy","rs_sunny","rs_cloudy","co2_sunny","co2_cloudy"],"range":["#8B1A1A","#2B2D86","#F7941D","#77933C","#8B1A1A","#2B2D86"]},"legend":null},
     "strokeDash":{"datum":"FC","type":"nominal","scale":{"domain":["FC","[CO₂]"],"range":[[1,0],[14,7]]},"legend":null}}},
   {"transform":[{"filter":"datum.h == 0"}],
    "mark":{"type":"rule","color":"#000","strokeWidth":2},
    "encoding":{"y":{"datum":0,"type":"quantitative","scale":{"domain":[-0.6,0.8],"nice":false,"zero":false}}}},
   {"transform":[{"filter":"datum.h == 0"}],
    "mark":{"type":"text","align":"right","baseline":"top","dx":-4,"dy":3,"fontSize":24,"fontWeight":"bold","lineHeight":25,"color":"#000"},
    "encoding":{"x":{"datum":24,"type":"quantitative","scale":{"domain":[0,24],"nice":false}},"y":{"datum":0.8,"type":"quantitative","scale":{"domain":[-0.6,0.8],"nice":false,"zero":false}},"text":{"value":["(a) XL","(44,8)"]}}}
  ]}
 ],
 "resolve":{"scale":{"y":"independent"},"axis":{"y":"independent","x":"independent"}}
},
{
 "width":388,"height":332,
 "transform":[{"filter":"datum.p == 'b'"}],
 "layer":[
  {"transform":[{"fold":["rs_sunny","rs_cloudy"],"as":["series","value"]}],
   "mark":{"type":"line","strokeWidth":2.6},
   "encoding":{
    "x":{"field":"h","type":"quantitative","scale":{"domain":[0,24],"nice":false},"axis":{"orient":"bottom","values":[2,4,8,10,14,16,20,22],"labels":false,"domain":false,"tickSize":-4,"title":null}},
    "y":{"field":"value","type":"quantitative","scale":{"domain":[0,1000],"nice":false},"axis":{"orient":"right","values":[0,200,400,600,800,1000],"format":"d","labelPadding":13,"tickSize":5,"labelOverlap":false,"title":"Rₛ (W m⁻²)","titleX":102,"titleY":338,"titleAngle":270,"titleAlign":"center","titleBaseline":"alphabetic"}},
    "color":{"field":"series","type":"nominal","scale":{"domain":["Sunny","Cloudy","rs_sunny","rs_cloudy","co2_sunny","co2_cloudy"],"range":["#8B1A1A","#2B2D86","#F7941D","#77933C","#8B1A1A","#2B2D86"]},"legend":null}}},
  {"transform":[{"fold":["co2_sunny","co2_cloudy"],"as":["series","value"]}],
   "mark":{"type":"line","strokeWidth":2.4},
   "encoding":{
    "x":{"field":"h","type":"quantitative","scale":{"domain":[0,24],"nice":false},"axis":null},
    "y":{"field":"value","type":"quantitative","scale":{"domain":[340,480],"nice":false,"zero":false},"axis":{"orient":"right","offset":116,"values":[340,360,380,400,420,440,460,480],"labelPadding":12,"tickSize":5,"labelOverlap":false,"title":"[CO₂] (ppm)","titleX":87,"titleY":338,"titleAngle":270,"titleAlign":"center","titleBaseline":"alphabetic"}},
    "color":{"field":"series","type":"nominal","scale":{"domain":["Sunny","Cloudy","rs_sunny","rs_cloudy","co2_sunny","co2_cloudy"],"range":["#8B1A1A","#2B2D86","#F7941D","#77933C","#8B1A1A","#2B2D86"]},"legend":null},
    "strokeDash":{"datum":"[CO₂]","type":"nominal","scale":{"domain":["FC","[CO₂]"],"range":[[1,0],[14,7]]},"legend":null}}},
  {"layer":[
   {"transform":[{"fold":["Sunny","Cloudy"],"as":["series","value"]}],
    "mark":{"type":"line","strokeWidth":2.6,"clip":true},
    "encoding":{
     "x":{"field":"h","type":"quantitative","scale":{"domain":[0,24],"nice":false},"axis":{"orient":"bottom","values":[0,6,12,18,24],"labels":false,"title":null,"tickSize":5,"labelOverlap":false,"labelFlush":false}},
     "y":{"field":"value","type":"quantitative","scale":{"domain":[-0.6,0.8],"nice":false,"zero":false},"axis":{"orient":"left","values":[-0.6,-0.4,-0.2,0,0.2,0.4,0.6,0.8],"labels":false,"tickSize":4,"title":null}},
     "color":{"field":"series","type":"nominal","scale":{"domain":["Sunny","Cloudy","rs_sunny","rs_cloudy","co2_sunny","co2_cloudy"],"range":["#8B1A1A","#2B2D86","#F7941D","#77933C","#8B1A1A","#2B2D86"]},"legend":null},
     "strokeDash":{"datum":"FC","type":"nominal","scale":{"domain":["FC","[CO₂]"],"range":[[1,0],[14,7]]},"legend":null}}},
   {"transform":[{"filter":"datum.h == 0"}],
    "mark":{"type":"rule","color":"#000","strokeWidth":2},
    "encoding":{"y":{"datum":0,"type":"quantitative","scale":{"domain":[-0.6,0.8],"nice":false,"zero":false}}}},
   {"transform":[{"filter":"datum.h == 0"}],
    "mark":{"type":"text","align":"right","baseline":"top","dx":-4,"dy":3,"fontSize":24,"fontWeight":"bold","lineHeight":25,"color":"#000"},
    "encoding":{"x":{"datum":24,"type":"quantitative","scale":{"domain":[0,24],"nice":false}},"y":{"datum":0.8,"type":"quantitative","scale":{"domain":[-0.6,0.8],"nice":false,"zero":false}},"text":{"value":["(b) PL","(40,3)"]}}}
  ]}
 ],
 "resolve":{"scale":{"y":"independent"},"axis":{"y":"independent","x":"independent"}}
},
{
 "width":388,"height":332,
 "transform":[{"filter":"datum.p == 'c'"}],
 "layer":[
  {"transform":[{"fold":["rs_sunny","rs_cloudy"],"as":["series","value"]}],
   "mark":{"type":"line","strokeWidth":2.6},
   "encoding":{
    "x":{"field":"h","type":"quantitative","scale":{"domain":[0,24],"nice":false},"axis":{"orient":"bottom","values":[2,4,8,10,14,16,20,22],"labels":false,"domain":false,"tickSize":-4,"title":null}},
    "y":{"field":"value","type":"quantitative","scale":{"domain":[0,1000],"nice":false},"axis":{"orient":"right","values":[0,200,400,600,800,1000],"labels":false,"tickSize":5,"title":null}},
    "color":{"field":"series","type":"nominal","scale":{"domain":["Sunny","Cloudy","rs_sunny","rs_cloudy","co2_sunny","co2_cloudy"],"range":["#8B1A1A","#2B2D86","#F7941D","#77933C","#8B1A1A","#2B2D86"]}}}},
  {"transform":[{"fold":["co2_sunny","co2_cloudy"],"as":["series","value"]}],
   "mark":{"type":"line","strokeWidth":2.4},
   "encoding":{
    "x":{"field":"h","type":"quantitative","scale":{"domain":[0,24],"nice":false},"axis":null},
    "y":{"field":"value","type":"quantitative","scale":{"domain":[340,480],"nice":false,"zero":false},"axis":{"orient":"right","offset":28,"values":[340,360,380,400,420,440,460,480],"labels":false,"tickSize":5,"title":null}},
    "color":{"field":"series","type":"nominal","scale":{"domain":["Sunny","Cloudy","rs_sunny","rs_cloudy","co2_sunny","co2_cloudy"],"range":["#8B1A1A","#2B2D86","#F7941D","#77933C","#8B1A1A","#2B2D86"]}},
    "strokeDash":{"datum":"[CO₂]","type":"nominal","scale":{"domain":["FC","[CO₂]"],"range":[[1,0],[14,7]]}}}},
  {"layer":[
   {"transform":[{"fold":["Sunny","Cloudy"],"as":["series","value"]}],
    "mark":{"type":"line","strokeWidth":2.6,"clip":true},
    "encoding":{
     "x":{"field":"h","type":"quantitative","scale":{"domain":[0,24],"nice":false},"axis":{"orient":"bottom","values":[0,6,12,18,24],"labelPadding":15,"tickSize":5,"labelOverlap":false,"labelFlush":false,"title":"Hour in Day","titleX":416,"titleY":64,"titleAlign":"center","titleBaseline":"alphabetic"}},
     "y":{"field":"value","type":"quantitative","scale":{"domain":[-0.6,0.8],"nice":false,"zero":false},"axis":{"orient":"left","values":[-0.6,-0.4,-0.2,0,0.2,0.4,0.6,0.8],"format":".1f","labelExpr":"replace(datum.label,'−','-')","labelPadding":12,"tickSize":4,"labelOverlap":false,"title":null}},
     "color":{"field":"series","type":"nominal","scale":{"domain":["Sunny","Cloudy","rs_sunny","rs_cloudy","co2_sunny","co2_cloudy"],"range":["#8B1A1A","#2B2D86","#F7941D","#77933C","#8B1A1A","#2B2D86"]},"legend":{"orient":"none","legendX":22,"legendY":2,"title":null,"values":["Sunny","Cloudy","rs_sunny","rs_cloudy"],"symbolType":"M-3.6,0H3.6","symbolSize":256,"symbolStrokeWidth":3,"labelOffset":32,"labelExpr":"datum.label == 'rs_sunny' ? 'Rₛ Sunny' : datum.label == 'rs_cloudy' ? 'Rₛ Cloudy' : datum.label"}},
     "strokeDash":{"datum":"FC","type":"nominal","scale":{"domain":["FC","[CO₂]"],"range":[[1,0],[14,7]]},"legend":{"orient":"none","legendX":193,"legendY":2,"title":null,"symbolType":"M-3.6,0H3.6","symbolSize":256,"symbolStrokeWidth":3,"symbolStrokeColor":"#000","labelOffset":34}}}},
   {"transform":[{"filter":"datum.h == 0"}],
    "mark":{"type":"rule","color":"#000","strokeWidth":2},
    "encoding":{"y":{"datum":0,"type":"quantitative","scale":{"domain":[-0.6,0.8],"nice":false,"zero":false}}}},
   {"transform":[{"filter":"datum.h == 0"}],
    "mark":{"type":"text","align":"right","baseline":"top","dx":-4,"dy":3,"fontSize":24,"fontWeight":"bold","lineHeight":25,"color":"#000"},
    "encoding":{"x":{"datum":24,"type":"quantitative","scale":{"domain":[0,24],"nice":false}},"y":{"datum":0.8,"type":"quantitative","scale":{"domain":[-0.6,0.8],"nice":false,"zero":false}},"text":{"value":["(c) ML","(66,6)"]}}}
  ]}
 ],
 "resolve":{"scale":{"y":"independent"},"axis":{"y":"independent","x":"independent"}}
},
{
 "width":388,"height":332,
 "transform":[{"filter":"datum.p == 'd'"}],
 "layer":[
  {"transform":[{"fold":["rs_sunny","rs_cloudy"],"as":["series","value"]}],
   "mark":{"type":"line","strokeWidth":2.6},
   "encoding":{
    "x":{"field":"h","type":"quantitative","scale":{"domain":[0,24],"nice":false},"axis":{"orient":"bottom","values":[2,4,8,10,14,16,20,22],"labels":false,"domain":false,"tickSize":-4,"title":null}},
    "y":{"field":"value","type":"quantitative","scale":{"domain":[0,1000],"nice":false},"axis":{"orient":"right","values":[0,200,400,600,800,1000],"format":"d","labelPadding":13,"tickSize":5,"labelOverlap":false,"title":null}},
    "color":{"field":"series","type":"nominal","scale":{"domain":["Sunny","Cloudy","rs_sunny","rs_cloudy","co2_sunny","co2_cloudy"],"range":["#8B1A1A","#2B2D86","#F7941D","#77933C","#8B1A1A","#2B2D86"]},"legend":null}}},
  {"transform":[{"fold":["co2_sunny","co2_cloudy"],"as":["series","value"]}],
   "mark":{"type":"line","strokeWidth":2.4},
   "encoding":{
    "x":{"field":"h","type":"quantitative","scale":{"domain":[0,24],"nice":false},"axis":null},
    "y":{"field":"value","type":"quantitative","scale":{"domain":[340,480],"nice":false,"zero":false},"axis":{"orient":"right","offset":116,"values":[340,360,380,400,420,440,460,480],"labelPadding":12,"tickSize":5,"labelOverlap":false,"title":null}},
    "color":{"field":"series","type":"nominal","scale":{"domain":["Sunny","Cloudy","rs_sunny","rs_cloudy","co2_sunny","co2_cloudy"],"range":["#8B1A1A","#2B2D86","#F7941D","#77933C","#8B1A1A","#2B2D86"]},"legend":null},
    "strokeDash":{"datum":"[CO₂]","type":"nominal","scale":{"domain":["FC","[CO₂]"],"range":[[1,0],[14,7]]},"legend":null}}},
  {"layer":[
   {"transform":[{"fold":["Sunny","Cloudy"],"as":["series","value"]}],
    "mark":{"type":"line","strokeWidth":2.6,"clip":true},
    "encoding":{
     "x":{"field":"h","type":"quantitative","scale":{"domain":[0,24],"nice":false},"axis":{"orient":"bottom","values":[0,6,12,18,24],"labelPadding":15,"tickSize":5,"labelOverlap":false,"labelFlush":false,"title":null}},
     "y":{"field":"value","type":"quantitative","scale":{"domain":[-0.6,0.8],"nice":false,"zero":false},"axis":{"orient":"left","values":[-0.6,-0.4,-0.2,0,0.2,0.4,0.6,0.8],"labels":false,"tickSize":4,"title":null}},
     "color":{"field":"series","type":"nominal","scale":{"domain":["Sunny","Cloudy","rs_sunny","rs_cloudy","co2_sunny","co2_cloudy"],"range":["#8B1A1A","#2B2D86","#F7941D","#77933C","#8B1A1A","#2B2D86"]},"legend":null},
     "strokeDash":{"datum":"FC","type":"nominal","scale":{"domain":["FC","[CO₂]"],"range":[[1,0],[14,7]]},"legend":null}}},
   {"transform":[{"filter":"datum.h == 0"}],
    "mark":{"type":"rule","color":"#000","strokeWidth":2},
    "encoding":{"y":{"datum":0,"type":"quantitative","scale":{"domain":[-0.6,0.8],"nice":false,"zero":false}}}},
   {"transform":[{"filter":"datum.h == 0"}],
    "mark":{"type":"text","align":"right","baseline":"top","dx":-4,"dy":3,"fontSize":24,"fontWeight":"bold","lineHeight":25,"color":"#000"},
    "encoding":{"x":{"datum":24,"type":"quantitative","scale":{"domain":[0,24],"nice":false}},"y":{"datum":0.8,"type":"quantitative","scale":{"domain":[-0.6,0.8],"nice":false,"zero":false}},"text":{"value":["(d) REF","(255,31)"]}}}
  ]}
 ],
 "resolve":{"scale":{"y":"independent"},"axis":{"y":"independent","x":"independent"}}
}
]
}
